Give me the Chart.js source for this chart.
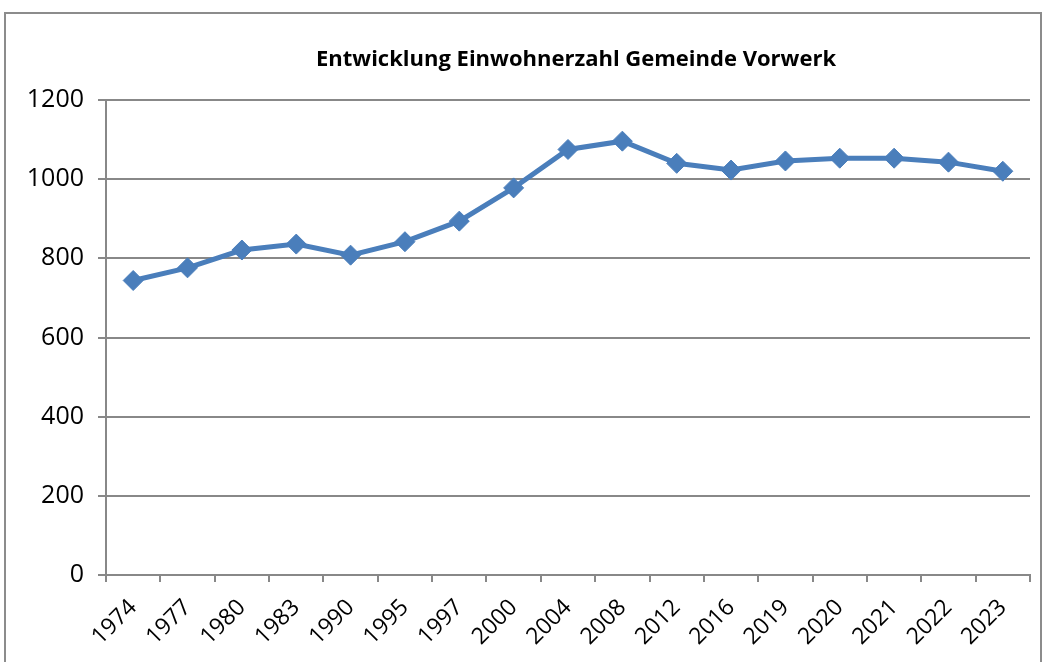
<!DOCTYPE html>
<html>
<head>
<meta charset="utf-8">
<script src="https://cdn.jsdelivr.net/npm/chart.js@4/dist/chart.umd.min.js"></script>
<style>
  html, body { margin: 0; padding: 0; background: #fff; overflow: hidden; }
  #wrap { position: relative; width: 1046px; height: 662px; }
  #frame { position: absolute; left: 4px; top: 12px; width: 1038px; height: 660px; border: 2px solid #8c8c8c; box-sizing: border-box; pointer-events: none; }
  canvas { position: absolute; left: 0; top: 0; }
</style>
</head>
<body>
<div id="wrap">
  <canvas id="c" width="1046" height="662"></canvas>
  <div id="frame"></div>
</div>
<script>
const chartTitle = 'Entwicklung Einwohnerzahl Gemeinde Vorwerk';
const categories = ['1974','1977','1980','1983','1990','1995','1997','2000','2004','2008','2012','2016','2019','2020','2021','2022','2023'];
const population = [744, 776, 821, 836, 808, 842, 894, 978, 1075, 1096, 1040, 1023, 1046, 1053, 1053, 1043, 1020];
const yMin = 0, yMax = 1200, yStep = 200;

const FONT = "'Open Sans', 'Liberation Sans', sans-serif";

const titlePlugin = {
  id: 'customTitle',
  afterDraw(chart) {
    const ctx = chart.ctx;
    ctx.save();
    ctx.font = "bold 22px " + FONT;
    ctx.fillStyle = '#000';
    ctx.textAlign = 'center';
    ctx.textBaseline = 'middle';
    ctx.fillText(chartTitle, 576, 60);
    ctx.restore();
  }
};

new Chart(document.getElementById('c'), {
  type: 'line',
  data: {
    labels: categories,
    datasets: [{
      data: population,
      borderColor: '#4a7ebb',
      backgroundColor: '#4a7ebb',
      borderWidth: 5,
      pointStyle: 'rectRot',
      pointRadius: 10,
      pointHoverRadius: 10,
      pointBackgroundColor: '#4a7ebb',
      pointBorderColor: '#4a7ebb',
      pointBorderWidth: 1,
      tension: 0,
      fill: false
    }]
  },
  options: {
    responsive: false,
    animation: false,
    events: [],
    layout: { padding: { top: 100, right: 16, left: 0, bottom: 0 } },
    plugins: { legend: { display: false }, tooltip: { enabled: false }, title: { display: false } },
    scales: {
      x: {
        offset: true,
        grid: { display: true, drawOnChartArea: false, drawTicks: true, tickLength: 7, color: '#888', lineWidth: 2, offset: true },
        border: { display: true, color: '#888', width: 2 },
        ticks: { color: '#000', font: { family: FONT, size: 23 }, maxRotation: 45, minRotation: 45, padding: 12, autoSkip: false },
        afterFit(scale) { scale.height = 87; }
      },
      y: {
        min: yMin, max: yMax,
        grid: { color: '#888', lineWidth: 2, tickLength: 8, drawTicks: true },
        border: { display: true, color: '#888', width: 2 },
        ticks: { stepSize: yStep, color: '#000', font: { family: FONT, size: 25 }, padding: 14,
                 callback: (v) => String(v) },
        afterFit(scale) { scale.width = 106; }
      }
    }
  },
  plugins: [titlePlugin]
});
</script>
</body>
</html>
